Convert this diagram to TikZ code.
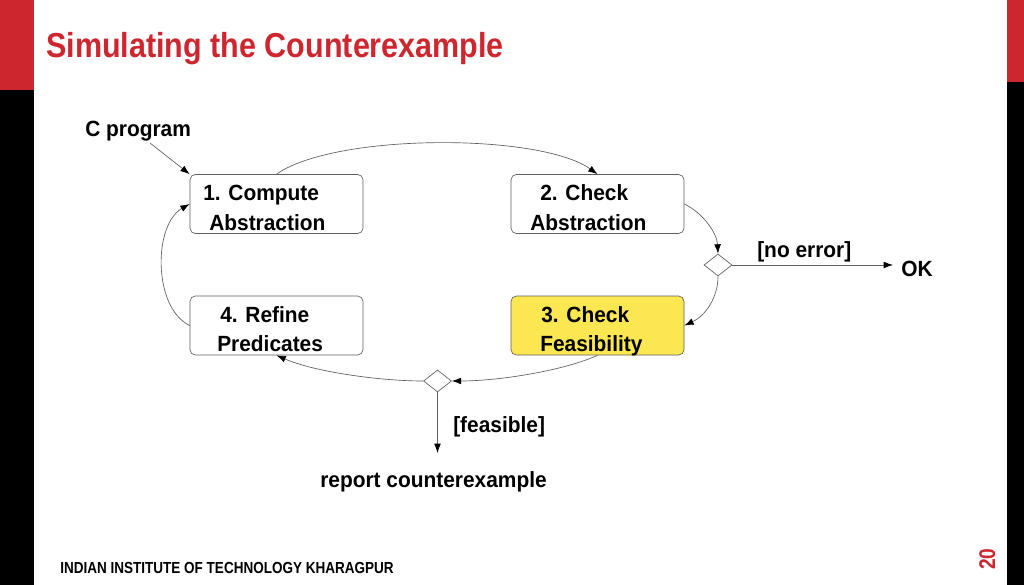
\documentclass[tikz,border=0pt]{standalone}
\usepackage{fontspec}
\setmainfont{Liberation Sans}[FakeStretch=0.845]
\newfontfamily\titlefont{Liberation Sans}[FakeStretch=0.88]
\newfontfamily\labelfont{Liberation Sans}[FakeStretch=0.95]
\usetikzlibrary{arrows.meta,shapes.geometric}
\definecolor{iitred}{RGB}{206,38,46}
\definecolor{boxyellow}{RGB}{251,231,82}
\definecolor{linegray}{RGB}{95,95,95}
\tikzset{
  stepbox/.style={draw=linegray, line width=0.5pt, rounded corners=4pt, minimum width=129.75pt, minimum height=44.25pt, inner sep=0pt},
  decision/.style={draw=linegray, line width=0.5pt, diamond, aspect=1.3, minimum width=21pt, minimum height=16.5pt, inner sep=0pt},
  lbl/.style={anchor=base west, inner sep=0pt, font=\labelfont\fontsize{16.5}{20}\selectfont\bfseries},
  conn/.style={draw=linegray, line width=0.5pt, -{Latex[length=7pt,width=5pt,color=black]}},
}
\begin{document}
\begin{tikzpicture}[x=0.75pt,y=-0.75pt]
\useasboundingbox (0,0) rectangle (1024,585);
\fill[white] (0,0) rectangle (1024,585);
\fill[iitred] (0,0) rectangle (34,90);
\fill[black] (0,90) rectangle (34,585);
\fill[iitred] (1007,0) rectangle (1024,82);
\fill[black] (1007,82) rectangle (1024,585);

\node[anchor=base west, inner sep=0pt, text=iitred, font=\titlefont\fontsize{26}{30}\selectfont\bfseries] (title) at (46,58) {Simulating the Counterexample};

% boxes
\node[stepbox] (b1) at (276.5,204) {};
\node[stepbox] (b2) at (597.5,204) {};
\node[stepbox, fill=boxyellow] (b3) at (597.5,325.5) {};
\node[stepbox] (b4) at (276.5,325.5) {};

\node[lbl] (b1a) at (203,200) {1. Compute};
\node[lbl] (b1b) at (209,230) {Abstraction};
\node[lbl] (b2a) at (540,200) {2. Check};
\node[lbl] (b2b) at (530,230) {Abstraction};
\node[lbl] (b3a) at (541,322) {3. Check};
\node[lbl] (b3b) at (540,351) {Feasibility};
\node[lbl] (b4a) at (220,322) {4. Refine};
\node[lbl] (b4b) at (217,351) {Predicates};

% decisions
\node[decision] (d1) at (718,265) {};
\node[decision] (d2) at (437.5,381) {};

% texts
\node[lbl] (cprog) at (85,137) {C program};
\node[lbl] (noerr) at (757,257) {[no error]};
\node[lbl] (ok) at (901,276) {OK};
\node[lbl] (feas) at (453,432) {[feasible]};
\node[lbl] (report) at (320,487) {report counterexample};
\coordinate (cstart) at (150,143);
\coordinate (okend) at (893,265);
\coordinate (repend) at (437.5,453);

% connectors
\draw[conn] (cstart) -- (b1.north west);
\draw[conn] (b1.north) .. controls (335,133) and (540,133) .. (b2.north);
\draw[conn] (b2.east) .. controls (703,213) and (717,233) .. (d1.north);
\draw[conn] (d1.south) .. controls (718,298) and (705,316) .. (b3.east);
\draw[conn] (d1.east) -- (okend);
\draw[conn] (b3.south) .. controls (560,372) and (495,381) .. (d2.east);
\draw[conn] (d2.west) .. controls (380,381) and (315,372) .. (b4.south);
\draw[conn] (b4.west) .. controls (153,308) and (153,225) .. (b1.west);
\draw[conn] (d2.south) -- (repend);

% footer
\node[anchor=base west, inner sep=0pt, font=\fontsize{12}{14}\selectfont\bfseries] (footer) at (60,573) {INDIAN INSTITUTE OF TECHNOLOGY KHARAGPUR};
\node[anchor=base west, inner sep=0pt, rotate=90, text=iitred, font=\fontsize{17}{20}\selectfont\bfseries] (pnum) at (995,570) {20};
\end{tikzpicture}
\end{document}
